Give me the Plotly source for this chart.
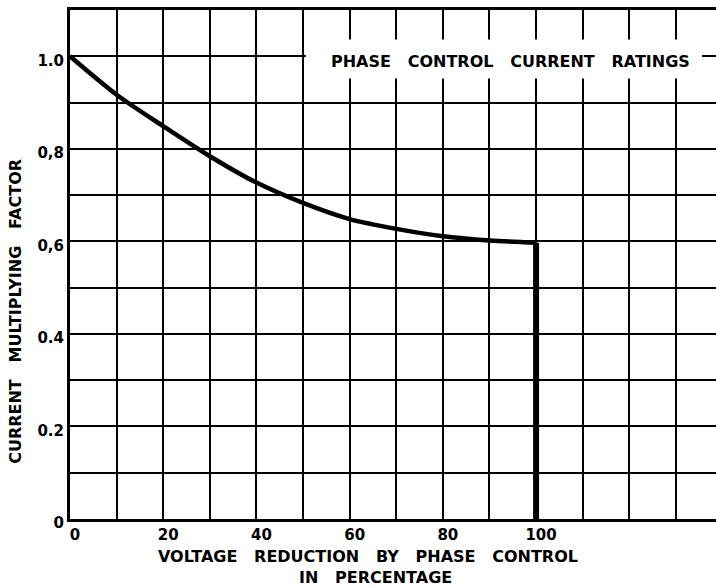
import plotly.graph_objects as go

# Data
reduction_pct = [0, 10, 20, 30, 40, 50, 60, 70, 80, 90, 100]
current_factor = [1.0, 0.917, 0.849, 0.784, 0.727, 0.683, 0.648, 0.627, 0.611, 0.602, 0.597]
cutoff_x = [100, 100]
cutoff_y = [0.597, 0.0]

x_tickvals = [0, 10, 20, 30, 40, 50, 60, 70, 80, 90, 100, 110, 120, 130]
x_ticktext = ["0", "", "20", "", "40", "", "60", "", "80", "", "100", "", "", ""]
y_tickvals = [0, 0.1, 0.2, 0.3, 0.4, 0.5, 0.6, 0.7, 0.8, 0.9, 1.0, 1.1]
y_ticktext = ["0", "", "0.2", "", "0.4", "", "0,6", "", "0,8", "", "1.0", ""]

G = "\u00a0\u00a0\u00a0"
title_text = G.join(["PHASE", "CONTROL", "CURRENT", "RATINGS"])
x_title_1 = G.join(["VOLTAGE", "REDUCTION", "BY", "PHASE", "CONTROL"])
x_title_2 = G.join(["IN", "PERCENTAGE"])
y_title = G.join(["CURRENT", "MULTIPLYING", "FACTOR"])

FONT = "DejaVu Sans"
L, T, W, H = 70, 10, 646, 509.3   # plot area in pixels


def px_x(p):
    return (p - L) / W


def px_y(p):
    return (T + H - p) / H


fig = go.Figure()
fig.add_trace(go.Scatter(x=reduction_pct, y=current_factor, mode="lines",
                         line=dict(color="black", width=4.5, shape="spline", smoothing=0.8),
                         showlegend=False, hoverinfo="skip"))
fig.add_trace(go.Scatter(x=cutoff_x, y=cutoff_y, mode="lines",
                         line=dict(color="black", width=6),
                         showlegend=False, hoverinfo="skip"))

# white box behind the chart title
fig.add_shape(type="rect", xref="x", yref="y", x0=50.6, x1=135.6, y0=0.952, y1=1.036,
              fillcolor="white", line=dict(width=0), layer="above")
fig.add_annotation(x=px_x(510), y=px_y(62), xref="paper", yref="paper",
                   xanchor="center", yanchor="middle", text=title_text, showarrow=False,
                   font=dict(family=FONT, size=16, color="black", weight="bold"))

fig.add_annotation(x=px_x(368), y=px_y(557), xref="paper", yref="paper",
                   xanchor="center", yanchor="middle", text=x_title_1, showarrow=False,
                   font=dict(family=FONT, size=16, color="black", weight="bold"))
fig.add_annotation(x=px_x(375), y=px_y(578), xref="paper", yref="paper",
                   xanchor="center", yanchor="middle", text=x_title_2, showarrow=False,
                   font=dict(family=FONT, size=16, color="black", weight="bold"))
fig.add_annotation(x=px_x(16), y=px_y(312), xref="paper", yref="paper",
                   xanchor="center", yanchor="middle", text=y_title, showarrow=False,
                   textangle=-90,
                   font=dict(family=FONT, size=16, color="black", weight="bold"))

fig.update_layout(
    width=716, height=587,
    margin=dict(l=L, r=716 - L - W, t=T, b=587 - T - H, autoexpand=False),
    paper_bgcolor="white", plot_bgcolor="white",
    font=dict(family=FONT, color="black"),
)

fig.update_xaxes(range=[0, 138.6], tickmode="array", tickvals=x_tickvals, ticktext=x_ticktext,
                 showgrid=True, gridcolor="black", gridwidth=2,
                 showline=True, linecolor="black", linewidth=3, mirror=True,
                 ticks="", zeroline=False, ticklabelshift=5, ticklabelstandoff=0,
                 tickfont=dict(family=FONT, size=15, color="black", weight="bold"))
fig.update_yaxes(range=[0, 1.1], tickmode="array", tickvals=y_tickvals, ticktext=y_ticktext,
                 showgrid=True, gridcolor="black", gridwidth=2,
                 showline=True, linecolor="black", linewidth=3, mirror=False,
                 ticks="", zeroline=False, ticklabelstandoff=0, ticklabelshift=4,
                 tickfont=dict(family=FONT, size=15, color="black", weight="bold"))

fig.write_html("out.html", config={"displayModeBar": False},
               post_script="document.body.style.margin='0';document.body.style.padding='0';")
